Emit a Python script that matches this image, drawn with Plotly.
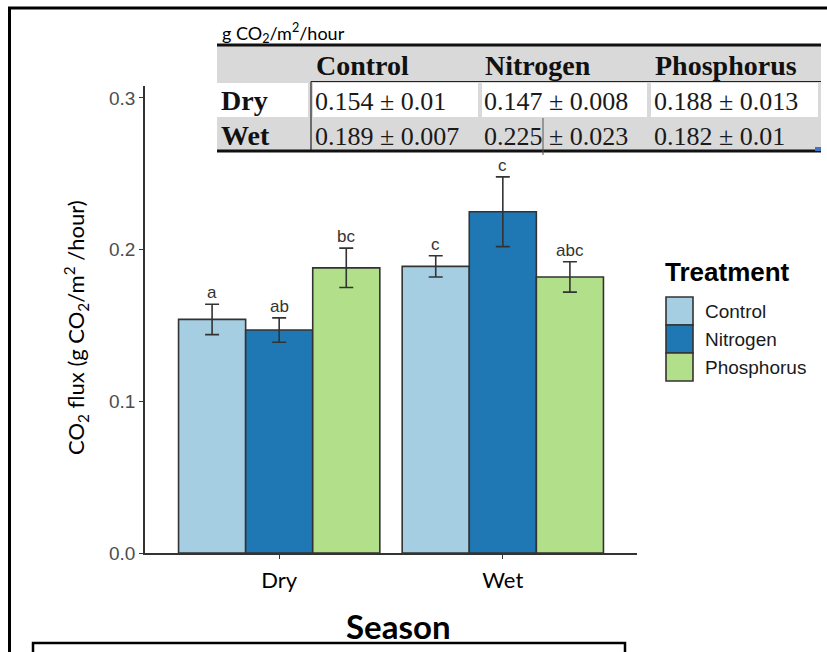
import plotly.graph_objects as go

# ---- data -------------------------------------------------------------
seasons = ["Dry", "Wet"]
treatments = ["Control", "Nitrogen", "Phosphorus"]
bar_colors = ["#a6cee3", "#1f78b4", "#b2df8a"]

control_mean = [0.154, 0.189]
nitrogen_mean = [0.147, 0.225]
phosphorus_mean = [0.188, 0.182]

control_se = [0.01, 0.007]
nitrogen_se = [0.008, 0.023]
phosphorus_se = [0.013, 0.01]

control_letters = ["a", "c"]
nitrogen_letters = ["ab", "c"]
phosphorus_letters = ["bc", "abc"]

y_ticks = [0.0, 0.1, 0.2, 0.3]

means = [control_mean, nitrogen_mean, phosphorus_mean]
ses = [control_se, nitrogen_se, phosphorus_se]
letters = [control_letters, nitrogen_letters, phosphorus_letters]

# ---- page geometry helpers (pixel -> paper) ---------------------------
W, H = 827, 652


def px(x):
    return x / W


def py(y):
    return 1 - y / H


SANS = "Liberation Sans, Arial, sans-serif"
HUMAN = "Lato, Carlito, Calibri, sans-serif"
SERIF = "Liberation Serif, Times New Roman, serif"
DARK = "#333333"

fig = go.Figure()

for name, color, m, s in zip(treatments, bar_colors, means, ses):
    fig.add_trace(go.Bar(
        x=seasons, y=m, name=name,
        marker=dict(color=color, line=dict(color=DARK, width=1.6)),
        error_y=dict(type="data", array=s, color=DARK, thickness=1.6, width=7),
        showlegend=False,
    ))

annotations = []
shapes = []


def label(x, y, text, font, xanchor="center", yanchor="middle", **kw):
    annotations.append(dict(x=px(x), y=py(y), xref="paper", yref="paper",
                            text=text, showarrow=False, font=font,
                            xanchor=xanchor, yanchor=yanchor, **kw))


# significance letters above each error bar
for j, (m, s, lab) in enumerate(zip(means, ses, letters)):
    for i in range(len(seasons)):
        annotations.append(dict(
            x=i + (j - 1) * 0.3, y=m[i] + s[i], xref="x", yref="y",
            text=lab[i], showarrow=False, xanchor="center", yanchor="bottom",
            yshift=0, font=dict(family=SANS, size=17, color=DARK),
        ))

# axis titles
label(76, 328, "CO<sub>2</sub> flux (g CO<sub>2</sub>/m<sup>2</sup> /hour)",
      dict(family=HUMAN, size=22, color="black"), textangle=-90)
label(398, 626, "<b>Season</b>", dict(family=HUMAN, size=33, color="black"))

# legend
label(663, 272, "<b>Treatment</b>", dict(family=SANS, size=26, color="black"),
      xanchor="left")
for j, (name, color) in enumerate(zip(treatments, bar_colors)):
    y0 = 297 + 28 * j
    shapes.append(dict(
        type="rect", xref="paper", yref="paper",
        x0=px(666), x1=px(693), y0=py(y0 + 28), y1=py(y0),
        fillcolor=color, line=dict(color=DARK, width=1.6),
    ))
    label(703, y0 + 14, name, dict(family=SANS, size=19, color="#1a1a1a"),
          xanchor="left")

# ---- summary table ----------------------------------------------------
label(220, 33, "g CO<sub>2</sub>/m<sup>2</sup>/hour",
      dict(family=HUMAN, size=18, color="black"), xanchor="left")
shapes.append(dict(type="rect", xref="paper", yref="paper",
                   x0=px(217), x1=px(821), y0=py(151), y1=py(45),
                   fillcolor="#d9d9d9", line=dict(width=0)))
for x0, x1 in [(217, 308), (313, 478), (482, 647), (651, 818)]:
    shapes.append(dict(type="rect", xref="paper", yref="paper",
                       x0=px(x0), x1=px(x1), y0=py(117), y1=py(83),
                       fillcolor="white", line=dict(width=0)))
shapes.append(dict(type="line", xref="paper", yref="paper",
                   x0=px(311), x1=px(821), y0=py(81.5), y1=py(81.5),
                   line=dict(color="#222222", width=1.2)))
shapes.append(dict(type="line", xref="paper", yref="paper",
                   x0=px(311), x1=px(311), y0=py(151), y1=py(81.5),
                   line=dict(color="#222222", width=1.2)))
for yy in (45, 151):
    shapes.append(dict(type="line", xref="paper", yref="paper",
                       x0=px(217), x1=px(821), y0=py(yy), y1=py(yy),
                       line=dict(color="#111111", width=3)))
shapes.append(dict(type="line", xref="paper", yref="paper",
                   x0=px(543), x1=px(543), y0=py(155), y1=py(118),
                   line=dict(color="#555555", width=1)))
shapes.append(dict(type="rect", xref="paper", yref="paper",
                   x0=px(815), x1=px(821), y0=py(151), y1=py(147),
                   fillcolor="#4472c4", line=dict(width=0)))

header_x = [362, 538, 726]
for name, hx in zip(treatments, header_x):
    label(hx, 66, f"<b>{name}</b>", dict(family=SERIF, size=28, color="#111111"))
row_y = [100, 135]
value_x = [313, 482, 652]
for i, season in enumerate(seasons):
    label(219, row_y[i], f"<b>{season}</b>",
          dict(family=SERIF, size=28, color="#111111"), xanchor="left")
    for j in range(len(treatments)):
        label(value_x[j], row_y[i] + 1, f"{means[j][i]:g} ± {ses[j][i]:g}",
              dict(family=SERIF, size=26, color="#1a1a1a"), xanchor="left")

# ---- outer frames -----------------------------------------------------
shapes.append(dict(type="path", xref="paper", yref="paper",
                   path=f"M {px(9.5)},{py(660)} L {px(9.5)},{py(8)} L {px(830)},{py(8)}",
                   line=dict(color="black", width=3)))
shapes.append(dict(type="path", xref="paper", yref="paper",
                   path=(f"M {px(33)},{py(660)} L {px(33)},{py(643)} "
                         f"L {px(625)},{py(643)} L {px(625)},{py(660)}"),
                   line=dict(color="black", width=2.5)))

fig.update_layout(
    width=W, height=H,
    margin=dict(l=0, r=0, t=0, b=0, pad=0),
    paper_bgcolor="white", plot_bgcolor="white",
    barmode="group", bargap=0.1, bargroupgap=0,
    showlegend=False,
    xaxis=dict(
        domain=[px(145), px(637)], range=[-0.6, 1.6],
        showline=True, linecolor=DARK, linewidth=1.5,
        ticks="outside", ticklen=4, tickcolor=DARK, tickwidth=1.2,
        tickfont=dict(family=HUMAN, size=22, color="black"),
        ticklabelstandoff=3, automargin=False,
        showgrid=False, zeroline=False,
    ),
    yaxis=dict(
        domain=[py(553), py(86)], range=[0, 0.3079],
        tickvals=y_ticks, ticktext=[f"{v:.1f}" for v in y_ticks],
        showline=True, linecolor=DARK, linewidth=1.5,
        ticks="outside", ticklen=4, tickcolor=DARK, tickwidth=1.2,
        tickfont=dict(family=SANS, size=19, color="#4d4d4d"),
        automargin=False,
        showgrid=False, zeroline=False,
    ),
    annotations=annotations,
    shapes=shapes,
)

fig.write_html("out.html")
